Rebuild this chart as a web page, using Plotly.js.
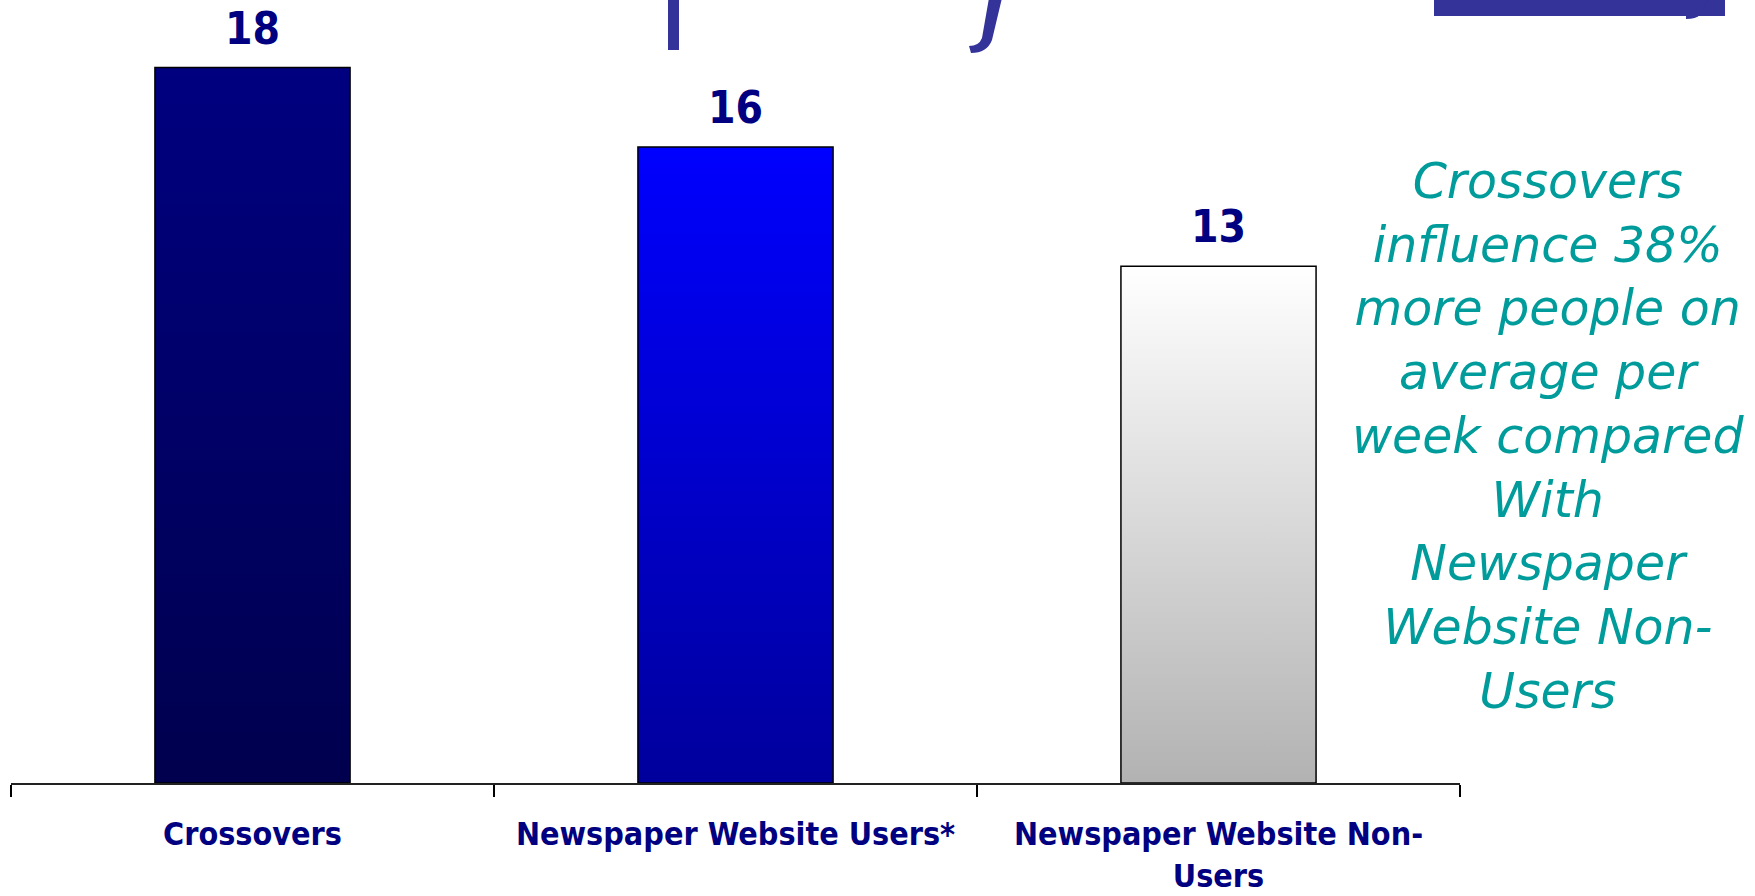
<!DOCTYPE html>
<html>
<head>
<meta charset="utf-8">
<script src="https://cdn.plot.ly/plotly-3.0.1.min.js"></script>
<style>
  html, body { margin: 0; padding: 0; background: #ffffff; }
  #chart { width: 1755px; height: 896px; }
</style>
</head>
<body>
<div id="chart"></div>
<script>
// ---- data ----
const categories = ["Crossovers", "Newspaper Website Users*", "Newspaper Website Non-Users"];
const tickLabels = ["Crossovers", "Newspaper Website Users*", "Newspaper Website Non-<br>Users"];
const values = [18, 16, 13];
const valueLabels = ["18", "16", "13"];
const noteText = "Crossovers<br>influence 38%<br>more people on<br>average per<br>week compared<br>With<br>Newspaper<br>Website Non-<br>Users";

// ---- style ----
const gradients = [
  ["#000080", "#00004e"],
  ["#0000ff", "#00009c"],
  ["#ffffff", "#b2b2b2"]
];
const labelFont = "DejaVu Sans Condensed, DejaVu Sans, sans-serif";

// plot area in pixels (used only for the cropped title fragments)
const PL = 11, PW = 1449, PH = 783;
const px = x => ((x - PL) / PW).toFixed(5);
const py = y => ((PH - y) / PH).toFixed(5);

const trace = {
  type: "bar",
  x: categories,
  y: values,
  marker: {
    color: gradients.map(g => g[1]),
    line: { color: "#000000", width: 1.5 }
  },
  hoverinfo: "skip",
  showlegend: false
};

const valueAnnotations = categories.map((c, i) => ({
  x: c, y: values[i], xref: "x", yref: "y",
  text: valueLabels[i], showarrow: false,
  yanchor: "bottom", yshift: 12,
  font: { family: labelFont, size: 44, color: "#000080", weight: "bold" }
}));

const layout = {
  width: 1755,
  height: 896,
  margin: { l: 11, r: 295, t: 0, b: 113 },
  paper_bgcolor: "#ffffff",
  plot_bgcolor: "#ffffff",
  bargap: 0.596,
  xaxis: {
    type: "category",
    range: [-0.5, 2.5],
    tickvals: categories,
    ticktext: tickLabels,
    showline: true,
    linecolor: "#222222",
    linewidth: 2,
    ticks: "outside",
    tickson: "boundaries",
    ticklen: 12,
    tickwidth: 2,
    tickcolor: "#000000",
    ticklabelstandoff: 22,
    showgrid: false,
    zeroline: false,
    tickfont: { family: labelFont, size: 32, color: "#000080", weight: "bold" },
    fixedrange: true
  },
  yaxis: {
    range: [0, 19.7],
    visible: false,
    showgrid: false,
    zeroline: false,
    fixedrange: true
  },
  annotations: valueAnnotations.concat([{
    xref: "paper", yref: "paper",
    x: 1.0607, y: 0.443,
    xanchor: "center", yanchor: "middle",
    text: noteText, showarrow: false, align: "center",
    font: { family: "DejaVu Sans, sans-serif", size: 49, color: "#009b9b", style: "italic" }
  }]),
  shapes: [
    // fragments of the cropped slide title above the chart
    { type: "rect", xref: "paper", yref: "paper",
      x0: px(1434), x1: px(1725), y0: py(16), y1: 1.02,
      fillcolor: "#333399", line: { width: 0 } },
    { type: "rect", xref: "paper", yref: "paper",
      x0: px(668), x1: px(679), y0: py(50), y1: 1.02,
      fillcolor: "#333399", line: { width: 0 } },
    { type: "path", xref: "paper", yref: "paper",
      path: `M ${px(989)},${py(-2)} L ${px(1002)},${py(-2)} L ${px(992)},${py(40)} Q ${px(987)},${py(53)} ${px(971)},${py(53)} L ${px(969)},${py(46)} Q ${px(979)},${py(46)} ${px(982)},${py(38)} Z`,
      fillcolor: "#333399", line: { width: 0 } },
    { type: "path", xref: "paper", yref: "paper",
      path: `M ${px(1698)},${py(-2)} L ${px(1710)},${py(-2)} L ${px(1700)},${py(15)} Q ${px(1696)},${py(19)} ${px(1686)},${py(19)} L ${px(1686)},${py(15)} Z`,
      fillcolor: "#333399", line: { width: 0 } }
  ]
};

Plotly.newPlot("chart", [trace], layout, { displayModeBar: false, staticPlot: true }).then(gd => {
  const svg = gd.querySelector(".main-svg");
  const ns = "http://www.w3.org/2000/svg";
  let defs = svg.querySelector("defs");
  if (!defs) { defs = document.createElementNS(ns, "defs"); svg.insertBefore(defs, svg.firstChild); }
  gradients.forEach((g, i) => {
    const lg = document.createElementNS(ns, "linearGradient");
    lg.setAttribute("id", "barGrad" + i);
    lg.setAttribute("x1", "0"); lg.setAttribute("y1", "0");
    lg.setAttribute("x2", "0"); lg.setAttribute("y2", "1");
    const s1 = document.createElementNS(ns, "stop");
    s1.setAttribute("offset", "0"); s1.setAttribute("stop-color", g[0]);
    const s2 = document.createElementNS(ns, "stop");
    s2.setAttribute("offset", "1"); s2.setAttribute("stop-color", g[1]);
    lg.appendChild(s1); lg.appendChild(s2);
    defs.appendChild(lg);
  });
  gd.querySelectorAll(".bars .point path").forEach((p, i) => {
    p.style.fill = "url(#barGrad" + i + ")";
  });
});
</script>
</body>
</html>
